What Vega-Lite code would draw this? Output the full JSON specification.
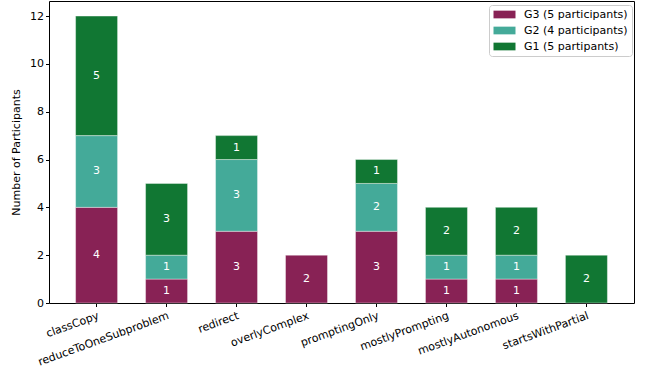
{
  "$schema": "https://vega.github.io/schema/vega-lite/v6.json",
  "width": 585,
  "height": 302,
  "autosize": {"type": "none"},
  "padding": {"left": 49, "top": 1, "right": 12, "bottom": 65},
  "config": {
    "font": "DejaVu Sans",
    "view": {"stroke": "black", "strokeWidth": 1},
    "axis": {"labelFontSize": 11, "labelColor": "black", "tickColor": "black", "tickSize": 3.5, "domain": false, "grid": false, "titleFontSize": 11, "titleFontWeight": "normal", "titleColor": "black"}
  },
  "data": {
    "values": [
      {"category": "classCopy", "group": "G3 (5 participants)", "rank": 1, "count": 4},
      {"category": "classCopy", "group": "G2 (4 participants)", "rank": 2, "count": 3},
      {"category": "classCopy", "group": "G1 (5 partipants)", "rank": 3, "count": 5},
      {"category": "reduceToOneSubproblem", "group": "G3 (5 participants)", "rank": 1, "count": 1},
      {"category": "reduceToOneSubproblem", "group": "G2 (4 participants)", "rank": 2, "count": 1},
      {"category": "reduceToOneSubproblem", "group": "G1 (5 partipants)", "rank": 3, "count": 3},
      {"category": "redirect", "group": "G3 (5 participants)", "rank": 1, "count": 3},
      {"category": "redirect", "group": "G2 (4 participants)", "rank": 2, "count": 3},
      {"category": "redirect", "group": "G1 (5 partipants)", "rank": 3, "count": 1},
      {"category": "overlyComplex", "group": "G3 (5 participants)", "rank": 1, "count": 2},
      {"category": "promptingOnly", "group": "G3 (5 participants)", "rank": 1, "count": 3},
      {"category": "promptingOnly", "group": "G2 (4 participants)", "rank": 2, "count": 2},
      {"category": "promptingOnly", "group": "G1 (5 partipants)", "rank": 3, "count": 1},
      {"category": "mostlyPrompting", "group": "G3 (5 participants)", "rank": 1, "count": 1},
      {"category": "mostlyPrompting", "group": "G2 (4 participants)", "rank": 2, "count": 1},
      {"category": "mostlyPrompting", "group": "G1 (5 partipants)", "rank": 3, "count": 2},
      {"category": "mostlyAutonomous", "group": "G3 (5 participants)", "rank": 1, "count": 1},
      {"category": "mostlyAutonomous", "group": "G2 (4 participants)", "rank": 2, "count": 1},
      {"category": "mostlyAutonomous", "group": "G1 (5 partipants)", "rank": 3, "count": 2},
      {"category": "startsWithPartial", "group": "G1 (5 partipants)", "rank": 3, "count": 2}
    ]
  },
  "transform": [
    {"stack": "count", "groupby": ["category"], "sort": [{"field": "rank", "order": "ascending"}], "as": ["y0", "y1"]},
    {"calculate": "(datum.y0 + datum.y1) / 2", "as": "ymid"}
  ],
  "encoding": {
    "x": {
      "field": "category",
      "type": "nominal",
      "sort": ["classCopy", "reduceToOneSubproblem", "redirect", "overlyComplex", "promptingOnly", "mostlyPrompting", "mostlyAutonomous", "startsWithPartial"],
      "scale": {"paddingInner": 0.4, "paddingOuter": 0.38},
      "axis": {"title": null, "labelAngle": -20, "labelAlign": "right", "labelBaseline": "top", "labelPadding": 3}
    }
  },
  "layer": [
    {
      "mark": {"type": "bar", "stroke": "white", "strokeWidth": 0.4},
      "encoding": {
        "y": {"field": "y0", "type": "quantitative", "scale": {"domain": [0, 12.63], "nice": false, "zero": true}, "axis": {"title": "Number of Participants", "values": [0, 2, 4, 6, 8, 10, 12], "titlePadding": 8}},
        "y2": {"field": "y1"},
        "color": {
          "field": "group",
          "type": "nominal",
          "scale": {"domain": ["G3 (5 participants)", "G2 (4 participants)", "G1 (5 partipants)"], "range": ["#882255", "#44AA99", "#117733"]},
          "legend": {
            "title": null,
            "orient": "none",
            "legendX": 440,
            "legendY": 4,
            "padding": 4,
            "strokeColor": "#cccccc",
            "fillColor": "white",
            "cornerRadius": 3,
            "symbolType": "M-2,-0.7H2V0.7H-2Z",
            "symbolSize": 121,
            "symbolStrokeWidth": 0,
            "symbolOpacity": 1,
            "symbolOffset": 6,
            "labelOffset": 14,
            "labelFontSize": 11,
            "labelColor": "black",
            "rowPadding": 4,
            "labelLimit": 200
          }
        }
      }
    },
    {
      "mark": {"type": "text", "color": "white", "fontSize": 11, "baseline": "middle"},
      "encoding": {
        "y": {"field": "ymid", "type": "quantitative"},
        "text": {"field": "count", "type": "quantitative"}
      }
    }
  ]
}
